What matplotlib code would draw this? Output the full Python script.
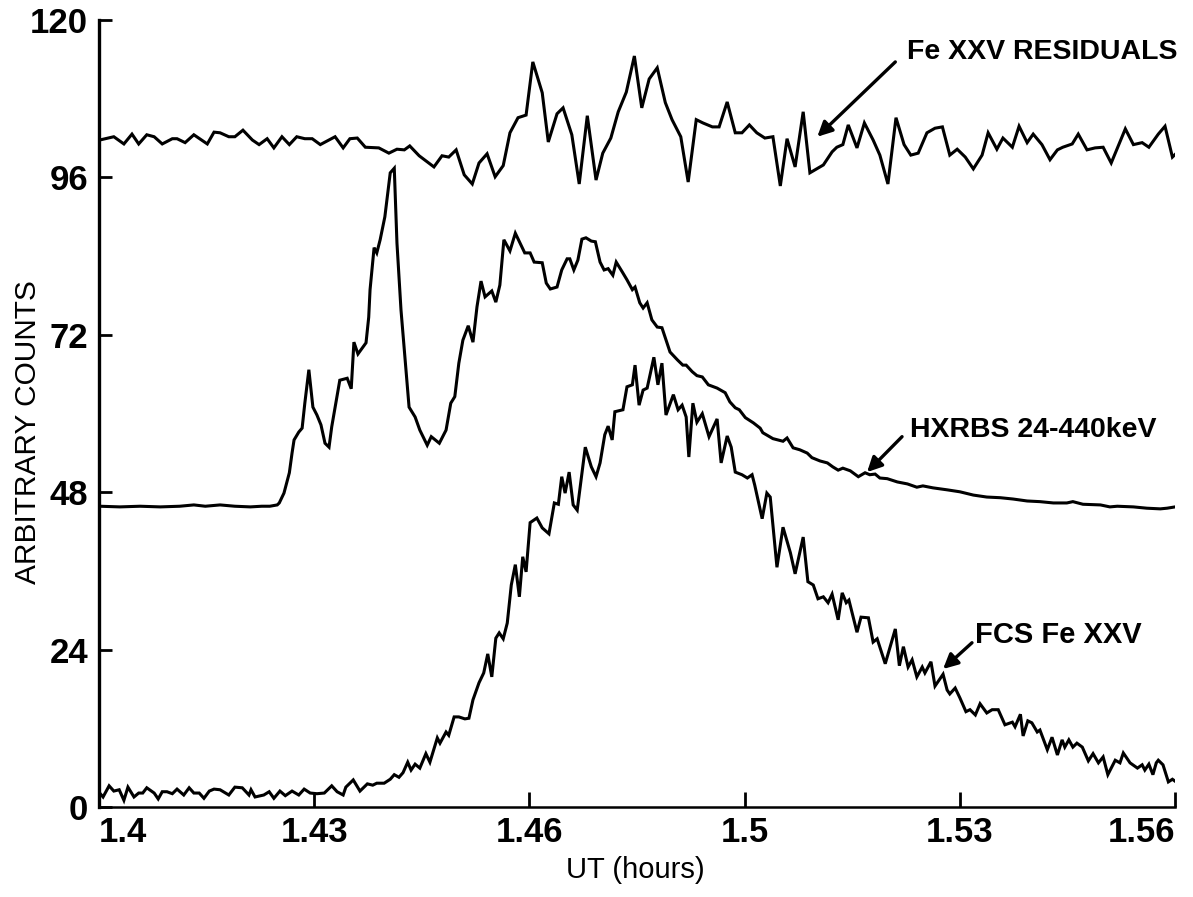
import matplotlib
matplotlib.use("Agg")
import matplotlib.pyplot as plt
import numpy as np

plt.rcParams['font.family'] = ['Liberation Sans', 'DejaVu Sans']

# Fe XXV residuals (offset trace near the top)
res_t = [1.4001, 1.4022, 1.4037, 1.4049, 1.4059, 1.4071, 1.4082, 1.4094, 1.4109, 1.4116,
         1.4128, 1.4141, 1.4161, 1.4171, 1.4180, 1.4193, 1.4202, 1.4214, 1.4228, 1.4238,
         1.4250, 1.4260, 1.4272, 1.4283, 1.4294, 1.4306, 1.4317, 1.4329, 1.4351, 1.4363,
         1.4373, 1.4384, 1.4396, 1.4416, 1.4431, 1.4443, 1.4454, 1.4462, 1.4476, 1.4498,
         1.4510, 1.4520, 1.4531, 1.4543, 1.4555, 1.4565, 1.4577, 1.4589,
         1.4601, 1.4611, 1.4623, 1.4635, 1.4645, 1.4659, 1.4668, 1.4681, 1.4690, 1.4703,
         1.4714, 1.4726, 1.4739, 1.4749, 1.4761, 1.4772, 1.4784, 1.4796, 1.4807, 1.4818,
         1.4830, 1.4842, 1.4852, 1.4865, 1.4876, 1.4888, 1.4898, 1.4912, 1.4922, 1.4934,
         1.4946, 1.4956, 1.4967, 1.4978, 1.4990, 1.5002, 1.5013, 1.5023, 1.5035, 1.5047,
         1.5057, 1.5077, 1.5090,
         1.5097, 1.5106, 1.5114, 1.5127, 1.5138, 1.5151, 1.5161, 1.5173, 1.5185, 1.5197,
         1.5207, 1.5218, 1.5231, 1.5243, 1.5254, 1.5265, 1.5276, 1.5288, 1.5300, 1.5313,
         1.5322, 1.5335, 1.5344, 1.5358, 1.5368, 1.5380, 1.5389, 1.5402, 1.5414, 1.5425,
         1.5433, 1.5447, 1.5456, 1.5469, 1.5481, 1.5493, 1.5505, 1.5526, 1.5538, 1.5551,
         1.5561, 1.5575, 1.5585, 1.5596, 1.5600]
res_v = [101.7, 102.2, 101.1, 102.6, 101.1, 102.5, 102.2, 101.1, 101.9, 101.9,
         101.3, 102.5, 101.1, 102.9, 102.8, 102.2, 102.2, 103.2, 101.7, 101.0,
         101.9, 100.5, 102.2, 101.0, 102.2, 101.9, 101.9, 101.0, 102.2, 100.5,
         101.9, 102.0, 100.6, 100.5, 99.7, 100.3, 100.2, 100.8, 99.3, 97.6,
         99.3, 99.1, 100.2, 96.4, 95.0, 98.2, 99.6, 96.1,
         97.8, 102.8, 105.1, 105.5, 113.6, 108.9, 101.4, 105.7, 106.6, 102.5,
         95.0, 105.4, 95.6, 99.7, 102.0, 106.0, 109.0, 114.5, 106.6, 111.0,
         112.7, 107.4, 104.8, 102.2, 95.3, 104.8, 104.3, 103.7, 103.7, 107.5,
         102.8, 102.8, 104.0, 102.8, 102.0, 102.2, 94.7, 101.9, 97.6, 106.0,
         96.7, 97.9, 99.9,
         100.6, 101.0, 104.0, 100.5, 104.3, 101.7, 99.4, 95.0, 105.1, 101.0,
         99.4, 99.7, 102.8, 103.5, 103.7, 99.4, 100.3, 99.1, 97.3, 99.4,
         102.8, 100.3, 102.0, 100.6, 103.8, 101.3, 102.6, 101.0, 98.7, 100.2,
         100.6, 101.1, 102.6, 100.2, 100.5, 100.6, 98.2, 103.4, 101.0, 101.3,
         100.6, 102.6, 103.8, 99.1, 99.5]

# HXRBS 24-440 keV hard X-ray counts
hx_t = [1.4001, 1.4031, 1.4061, 1.4091, 1.4120, 1.4141, 1.4158, 1.4180, 1.4202, 1.4225,
        1.4242, 1.4254, 1.4265,
        1.4268, 1.4275, 1.4283, 1.4287, 1.4290, 1.4297, 1.4302, 1.4306, 1.4312, 1.4318,
        1.4324, 1.4330, 1.4336, 1.4342, 1.4346, 1.4352, 1.4358, 1.4369, 1.4375, 1.4379,
        1.4385, 1.4397, 1.4401, 1.4403, 1.4409, 1.4413, 1.4418, 1.4425, 1.4433, 1.4439,
        1.4443, 1.4449, 1.4454, 1.4461, 1.4470, 1.4477, 1.4488, 1.4494, 1.4506, 1.4516,
        1.4523, 1.4529, 1.4535, 1.4541,
        1.4549, 1.4556, 1.4562, 1.4568, 1.4574, 1.4584, 1.4590, 1.4596, 1.4602, 1.4611,
        1.4619, 1.4626, 1.4633, 1.4641, 1.4647, 1.4659, 1.4665, 1.4671, 1.4681, 1.4688,
        1.4696, 1.4700, 1.4706, 1.4712, 1.4718, 1.4724, 1.4732, 1.4738, 1.4745, 1.4751,
        1.4757, 1.4764, 1.4769, 1.4778, 1.4785, 1.4793, 1.4797, 1.4804, 1.4809, 1.4815,
        1.4822, 1.4830, 1.4837, 1.4849, 1.4860, 1.4868, 1.4873, 1.4882, 1.4889, 1.4897,
        1.4906, 1.4919, 1.4931, 1.4938, 1.4946, 1.4952, 1.4961, 1.4973, 1.4983,
        1.4987, 1.5002, 1.5017, 1.5023, 1.5032, 1.5042, 1.5053, 1.5060, 1.5072, 1.5083,
        1.5091, 1.5099, 1.5106, 1.5117, 1.5129, 1.5139, 1.5146, 1.5154, 1.5161, 1.5172,
        1.5187, 1.5202, 1.5216, 1.5225, 1.5240, 1.5261, 1.5280, 1.5300, 1.5320, 1.5340,
        1.5359, 1.5380, 1.5399, 1.5419, 1.5439, 1.5448, 1.5463, 1.5489, 1.5503, 1.5514,
        1.5538, 1.5558, 1.5578, 1.5588, 1.5600]
hx_v = [45.9, 45.8, 45.9, 45.8, 45.9, 46.1, 45.9, 46.1, 45.9, 45.8,
        45.9, 45.9, 46.1,
        46.4, 47.9, 51.0, 54.0, 56.0, 57.2, 57.8, 61.6, 66.7, 61.0,
        59.8, 58.3, 55.5, 54.9, 58.0, 61.6, 65.1, 65.4, 63.8, 70.9,
        69.1, 70.8, 74.7, 78.9, 85.3, 84.5, 86.5, 90.0, 96.7, 97.4,
        86.0, 75.8, 69.7, 61.0, 59.5, 57.5, 55.2, 56.5, 55.5, 57.5,
        61.6, 62.6, 67.7, 71.2,
        73.4, 70.9, 76.3, 80.2, 77.8, 78.7, 77.0, 79.6, 86.5, 84.8,
        87.5, 86.0, 84.5, 84.5, 83.1, 83.0, 79.9, 79.0, 79.3, 81.9,
        83.6, 83.6, 81.9, 83.4, 86.6, 86.8, 86.3, 86.2, 83.1, 81.9,
        82.1, 81.1, 83.1, 81.6, 80.4, 78.9, 79.3, 76.9, 76.1, 76.9,
        74.3, 73.2, 73.1, 69.4, 68.2, 67.4, 67.4, 66.4, 65.8, 65.6,
        64.4, 63.9, 63.2, 61.8, 60.9, 60.6, 59.4, 58.6, 57.8,
        57.1, 56.2, 55.8, 56.3, 54.8, 54.5, 54.0, 53.3, 52.8, 52.5,
        51.9, 51.4, 51.7, 51.3, 50.4, 51.0, 50.7, 50.8, 50.2, 50.1,
        49.6, 49.3, 48.8, 49.0, 48.7, 48.4, 48.1, 47.6, 47.3, 47.2,
        47.0, 46.7, 46.6, 46.4, 46.4, 46.6, 46.2, 46.1, 45.8, 45.9,
        45.8, 45.6, 45.5, 45.6, 45.8]

# FCS Fe XXV soft X-ray line counts
fcs_t = [1.4001, 1.4006, 1.4015, 1.4022, 1.4030, 1.4037, 1.4043, 1.4052, 1.4059, 1.4065,
         1.4071, 1.4082, 1.4088, 1.4094, 1.4101, 1.4109, 1.4116, 1.4126, 1.4134, 1.4141,
         1.4149, 1.4156, 1.4164, 1.4171, 1.4180, 1.4193, 1.4202, 1.4213, 1.4223, 1.4226,
         1.4232, 1.4245, 1.4253, 1.4260, 1.4269, 1.4277, 1.4287, 1.4297, 1.4305, 1.4314,
         1.4324, 1.4335, 1.4346, 1.4354, 1.4363, 1.4367, 1.4378, 1.4388, 1.4399, 1.4407,
         1.4413, 1.4424, 1.4433, 1.4439, 1.4446, 1.4452, 1.4459, 1.4464, 1.4470, 1.4477,
         1.4486, 1.4492, 1.4503, 1.4507, 1.4516, 1.4520, 1.4528, 1.4535, 1.4544, 1.4550,
         1.4556, 1.4565, 1.4572, 1.4578, 1.4584,
         1.4590, 1.4595, 1.4601, 1.4607, 1.4613, 1.4619, 1.4625, 1.4630, 1.4635, 1.4641,
         1.4651, 1.4659, 1.4669, 1.4677, 1.4683, 1.4688, 1.4693, 1.4699, 1.4705, 1.4711,
         1.4723, 1.4732, 1.4739, 1.4745, 1.4752, 1.4757, 1.4763, 1.4767, 1.4779, 1.4785,
         1.4793, 1.4797, 1.4803, 1.4809, 1.4815, 1.4825, 1.4831, 1.4837, 1.4843, 1.4854,
         1.4861, 1.4867, 1.4873, 1.4877, 1.4883, 1.4889, 1.4897, 1.4907, 1.4919, 1.4925,
         1.4934, 1.4940, 1.4946, 1.4956, 1.4964,
         1.4971, 1.4975, 1.4986, 1.4993, 1.4998, 1.5008, 1.5017, 1.5028, 1.5035, 1.5047,
         1.5054, 1.5062, 1.5069, 1.5077, 1.5084, 1.5090, 1.5099, 1.5105, 1.5111, 1.5115,
         1.5127, 1.5133, 1.5144, 1.5151, 1.5157, 1.5169, 1.5184, 1.5190, 1.5196, 1.5203,
         1.5209, 1.5216, 1.5224, 1.5228, 1.5237, 1.5243, 1.5255, 1.5261, 1.5265, 1.5273,
         1.5280, 1.5289, 1.5295, 1.5303, 1.5310, 1.5320, 1.5328,
         1.5337, 1.5347, 1.5358, 1.5362, 1.5370, 1.5374, 1.5381, 1.5387, 1.5395, 1.5399,
         1.5410, 1.5417, 1.5425, 1.5432, 1.5436, 1.5442, 1.5448, 1.5454, 1.5462, 1.5471,
         1.5478, 1.5486, 1.5493, 1.5500, 1.5511, 1.5518, 1.5523, 1.5533, 1.5544, 1.5551,
         1.5555, 1.5561, 1.5567, 1.5572, 1.5575, 1.5582, 1.5590, 1.5596, 1.5600]
fcs_v = [2.2, 1.6, 3.3, 2.5, 2.7, 1.1, 3.1, 1.6, 2.2, 2.2,
         3.0, 2.2, 1.3, 2.4, 2.4, 2.1, 2.8, 1.9, 3.0, 2.2,
         2.2, 1.4, 2.5, 2.8, 2.7, 1.9, 3.1, 3.0, 1.9, 2.7,
         1.6, 1.9, 2.4, 1.4, 2.5, 1.8, 2.5, 1.9, 2.8, 2.2,
         2.1, 2.2, 3.3, 2.4, 1.9, 3.1, 4.2, 2.5, 3.6, 3.4,
         3.7, 3.7, 4.3, 5.0, 4.6, 5.3, 6.9, 5.7, 6.6, 6.0,
         8.2, 6.9, 10.6, 9.8, 11.5, 11.0, 13.8, 13.8, 13.5, 13.6,
         16.4, 19.0, 20.5, 23.4, 19.9,
         25.8, 26.6, 25.7, 28.1, 33.9, 37.0, 32.1, 38.2, 35.9, 43.4,
         44.1, 42.6, 41.7, 46.4, 46.2, 50.4, 47.9, 51.1, 46.1, 45.3,
         54.9, 51.9, 50.4, 52.5, 56.8, 58.1, 56.0, 60.3, 60.6, 64.1,
         64.4, 67.4, 61.3, 63.6, 63.9, 68.6, 64.4, 67.7, 59.8, 62.9,
         60.6, 61.3, 59.5, 53.4, 61.6, 58.7, 60.0, 56.5, 59.2, 52.5,
         56.6, 54.9, 51.1, 50.7, 50.2,
         50.7, 49.1, 44.0, 47.9, 47.3, 36.6, 42.7, 38.8, 35.6, 41.2,
         34.4, 33.9, 31.8, 32.1, 31.2, 32.5, 28.6, 32.7, 31.2, 31.6,
         26.7, 29.0, 28.9, 25.2, 25.7, 21.9, 27.2, 21.6, 24.5, 21.4,
         22.5, 19.9, 21.4, 20.5, 22.2, 18.5, 20.3, 17.9, 17.3, 18.2,
         16.7, 14.6, 14.9, 14.1, 15.8, 14.4, 14.9,
         14.9, 12.6, 13.0, 12.3, 14.2, 10.9, 13.2, 12.9, 11.5, 11.8,
         8.8, 10.7, 8.0, 10.3, 9.2, 10.3, 9.2, 9.8, 9.2, 7.1,
         8.2, 6.8, 7.7, 5.0, 7.2, 6.8, 8.3, 6.8, 6.0, 6.5,
         5.7, 6.6, 5.0, 6.8, 7.2, 6.5, 3.9, 4.3, 4.0]

x_ticks = np.linspace(1.4, 1.56, 6)
x_labels = ['1.4', '1.43', '1.46', '1.5', '1.53', '1.56']
y_ticks = [0, 24, 48, 72, 96, 120]

fig = plt.figure(figsize=(11.93, 8.97), dpi=100)
ax = fig.add_axes([0.083, 0.0998, 0.902, 0.878])

for t, v in [(res_t, res_v), (hx_t, hx_v), (fcs_t, fcs_v)]:
    ax.plot(t, v, color='black', lw=2.2, solid_joinstyle='miter')

ax.set_xlim(1.4, 1.56)
ax.set_ylim(0, 120)
ax.set_xticks(x_ticks)
ax.set_xticklabels(x_labels)
ax.set_yticks(y_ticks)

ax.spines['top'].set_visible(False)
ax.spines['right'].set_visible(False)
ax.spines['left'].set_linewidth(2.4)
ax.spines['bottom'].set_linewidth(1.8)
ax.tick_params(axis='both', direction='in', width=2, labelsize=25)
ax.tick_params(axis='y', length=9, pad=8)
ax.tick_params(axis='x', length=11, pad=6)
for lab in ax.get_xticklabels() + ax.get_yticklabels():
    lab.set_fontweight('bold')
# end labels sit inside the axis span
xt = ax.get_xticklabels()
xt[0].set_ha('left')
xt[-1].set_ha('right')

ax.set_xlabel('UT (hours)', fontsize=21)
ax.set_ylabel('ARBITRARY COUNTS', fontsize=21.5)
ax.xaxis.set_label_coords(0.498, -0.062)
ax.yaxis.set_label_coords(-0.053, 0.477)

# curve labels with pointer arrows
arrow = dict(arrowstyle='-|>', lw=2.4, color='black', mutation_scale=22,
             shrinkA=0, shrinkB=0)
ax.text(1.5202, 115.1, 'Fe XXV RESIDUALS', fontsize=20.5, fontweight='bold', va='center')
ax.annotate('', xy=(1.5068, 102.2), xytext=(1.5184, 113.6), arrowprops=arrow)
ax.text(1.5206, 57.5, 'HXRBS 24-440keV', fontsize=20.5, fontweight='bold', va='center')
ax.annotate('', xy=(1.5142, 51.1), xytext=(1.5194, 56.5), arrowprops=arrow)
ax.text(1.5303, 26.3, 'FCS Fe XXV', fontsize=21, fontweight='bold', va='center')
ax.annotate('', xy=(1.5255, 21.1), xytext=(1.5298, 25.1), arrowprops=arrow)

fig.savefig('out.png', dpi=100)
